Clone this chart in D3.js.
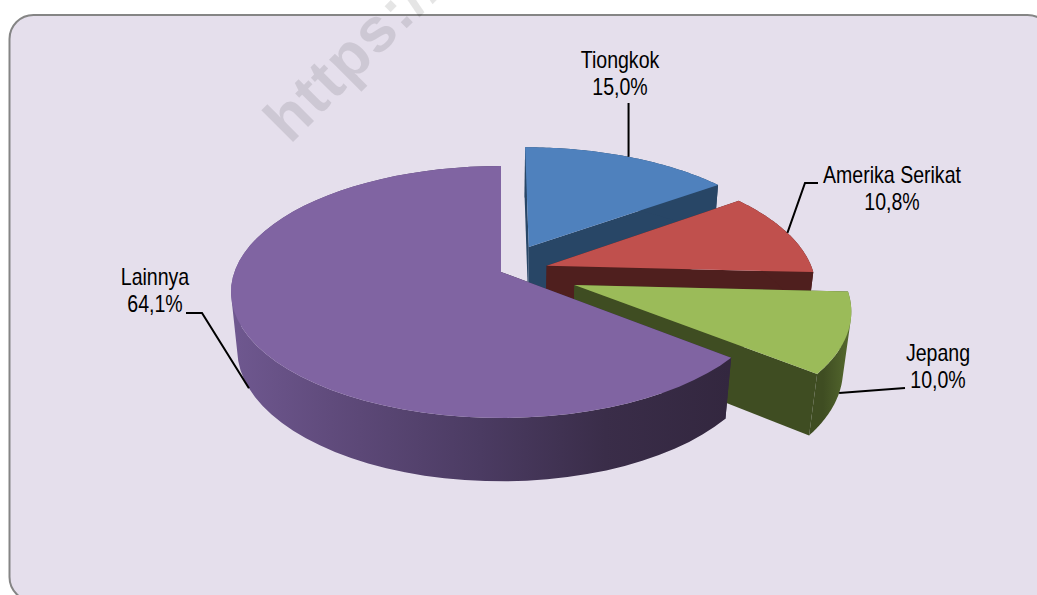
<!DOCTYPE html>
<html>
<head>
<meta charset="utf-8">
<script src="https://cdn.jsdelivr.net/npm/d3@7/dist/d3.min.js"></script>
<style>
  html, body { margin: 0; padding: 0; background: #fff; overflow: hidden; }
  svg { display: block; }
  text { font-family: "Liberation Sans", Arial, sans-serif; }
</style>
</head>
<body>
<script>
let w = 1037;
let h = 595;

var categories = ["Tiongkok", "Amerika Serikat", "Jepang", "Lainnya"];
var shares = [15.0, 10.8, 10.0, 64.1];
var shareLabels = ["15,0%", "10,8%", "10,0%", "64,1%"];
var explodes = [0.237, 0.18, 0.29, 0];

var topColors = ["#4f81bd", "#c0504d", "#9bbb59", "#8064a2"];
var sideColors = ["#284666", "#4f1f1e", "#3f4d22", "#33273f"];

// where the text block of each label sits and where its leader bends
var labelPos = [
    { x: 620, y: 68, bend: null },
    { x: 892, y: 183, bend: [805, 183], start: [818, 183] },
    { x: 938, y: 361, bend: null, start: [905, 388] },
    { x: 155, y: 285, bend: [202, 313], start: [186, 313] }
];

// perspective of the pie plane, fitted by eye
var cx = 501, cy = 272;
var A = 266.6, B = 122.8, k = 0.1587;
var sink = 0.023, vanishY = 2800;

function project(u, v) {
    var d = 1 - k * v;
    return [cx + A * u / d, cy + B * v / d];
}

// same point on the bottom of the slab, pulled to the vanishing point
function projectLow(u, v) {
    var p = project(u, v);
    var t = sink / (1 - k * v + sink);
    return [p[0] + t * (cx - p[0]), p[1] + t * (vanishY - p[1])];
}

var svg = d3.select("body").append("svg")
    .attr("width", w)
    .attr("height", h);

var defs = svg.append("defs");

var purpleGrad = defs.append("linearGradient")
    .attr("id", "purpleSide")
    .attr("gradientUnits", "userSpaceOnUse")
    .attr("x1", 231).attr("x2", 730).attr("y1", 0).attr("y2", 0);
purpleGrad.selectAll("stop")
    .data([[0, "#6f5890"], [0.2, "#604b7c"], [0.5, "#4b3b62"], [0.75, "#3a2d49"], [1, "#33273f"]])
    .enter().append("stop")
    .attr("offset", d => d[0])
    .attr("stop-color", d => d[1]);

var greenGrad = defs.append("linearGradient")
    .attr("id", "greenSide")
    .attr("gradientUnits", "userSpaceOnUse")
    .attr("x1", 760).attr("x2", 850).attr("y1", 0).attr("y2", 0);
greenGrad.selectAll("stop")
    .data([[0, "#3f4d22"], [0.7, "#3f4d22"], [1, "#55692e"]])
    .enter().append("stop")
    .attr("offset", d => d[0])
    .attr("stop-color", d => d[1]);

// panel
svg.append("rect")
    .attr("x", 9.5).attr("y", 15)
    .attr("width", 1042).attr("height", 586)
    .attr("rx", 24).attr("ry", 24)
    .attr("fill", "#e5dfec")
    .attr("stroke", "#858585")
    .attr("stroke-width", 2);

// watermark, runs off the top like in the source
svg.append("text")
    .attr("transform", "translate(290,145) rotate(-45)")
    .attr("font-size", 62)
    .attr("font-weight", "bold")
    .attr("letter-spacing", 1.5)
    .attr("fill", "#000")
    .attr("fill-opacity", 0.1)
    .text("https://");

var pie = d3.pie().sort(null).value(d => d)
    .startAngle(0).endAngle(2 * Math.PI);
var arcs = pie(shares);

var line = d3.line();

arcs.forEach((a, i) => {
    var mid = (a.startAngle + a.endAngle) / 2;
    a.ox = Math.sin(mid) * explodes[i];
    a.oy = -Math.cos(mid) * explodes[i];
    a.rim = d3.range(0, 61).map(j => {
        var t = a.startAngle + (a.endAngle - a.startAngle) * j / 60;
        return [a.ox + Math.sin(t), a.oy - Math.cos(t)];
    });
    a.midPoint = [a.ox + Math.sin(mid), a.oy - Math.cos(mid)];
});

var sideFill = i => i === 3 ? "url(#purpleSide)" : i === 2 ? "url(#greenSide)" : sideColors[i];

// all rim quads in one path, same winding, so nonzero fill gives a clean union
var wallPath = d => d3.pairs(d.rim).map(p => {
    var quad = [
        project(p[0][0], p[0][1]), project(p[1][0], p[1][1]),
        projectLow(p[1][0], p[1][1]), projectLow(p[0][0], p[0][1])
    ];
    if (d3.polygonArea(quad) < 0) quad.reverse();
    return line(quad) + "Z";
}).join("");

var slices = svg.selectAll("g.slice").data(arcs).enter().append("g")
    .attr("class", "slice");

// the two cut faces
slices.selectAll("path.cut")
    .data(d => [d.rim[0], d.rim[60]].map(e => ({ a: d, e: e })))
    .enter().append("path")
    .attr("class", "cut")
    .attr("d", d => line([
        project(d.a.ox, d.a.oy), project(d.e[0], d.e[1]),
        projectLow(d.e[0], d.e[1]), projectLow(d.a.ox, d.a.oy)
    ]) + "Z")
    .attr("fill", d => sideColors[d.a.index]);

// outer wall
slices.append("path")
    .attr("d", wallPath)
    .attr("fill", d => sideFill(d.index));

// top face
slices.append("path")
    .attr("d", d => line([project(d.ox, d.oy)].concat(d.rim.map(p => project(p[0], p[1])))) + "Z")
    .attr("fill", d => topColors[d.index]);

// leaders: top rim for the two back slices, bottom rim for the front ones
var leaderPath = (d, i) => {
    var end = i < 2 ? project(d.midPoint[0], d.midPoint[1]) : projectLow(d.midPoint[0], d.midPoint[1]);
    var pos = labelPos[i];
    var pts = i === 0 ? [[end[0], 103], end] : [pos.start].concat(pos.bend ? [pos.bend] : []).concat([end]);
    return line(pts);
};

svg.selectAll("path.leader").data(arcs).enter().append("path")
    .attr("class", "leader")
    .attr("d", leaderPath)
    .attr("fill", "none")
    .attr("stroke", "#000")
    .attr("stroke-width", 2);

// labels squeezed sideways, the source font is a tall narrow one
var labels = svg.selectAll("text.label").data(categories).enter().append("text")
    .attr("class", "label")
    .attr("text-anchor", "middle")
    .attr("font-size", 23)
    .attr("fill", "#000")
    .attr("transform", (d, i) => `translate(${labelPos[i].x},0) scale(0.85,1)`);

labels.append("tspan")
    .attr("x", 0)
    .attr("y", (d, i) => labelPos[i].y)
    .text(d => d);

labels.append("tspan")
    .attr("x", 0)
    .attr("y", (d, i) => labelPos[i].y + 27)
    .text((d, i) => shareLabels[i]);
</script>
</body>
</html>
